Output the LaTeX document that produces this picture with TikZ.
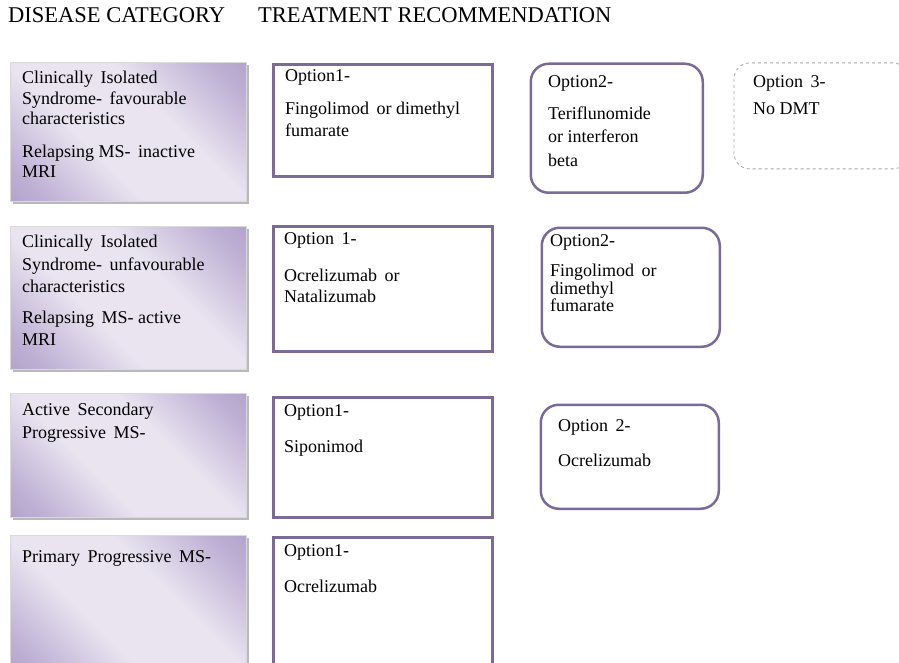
\documentclass[tikz,border=0pt]{standalone}
\usepackage{fontspec}
\setmainfont{Liberation Serif}
\usetikzlibrary{calc,positioning,shadows}
\definecolor{catdark}{HTML}{9C88BE}
\definecolor{catlight}{HTML}{E9E4F0}
\definecolor{optline}{HTML}{7A6A98}
\pgfdeclareverticalshading{catshade}{100bp}{color(0bp)=(catdark); color(22bp)=(catdark!55!catlight);
  color(40bp)=(catlight); color(60bp)=(catlight); color(78bp)=(catdark!55!catlight); color(100bp)=(catdark)}

\begin{document}
\begin{tikzpicture}[x=1pt,y=-1pt,
  cat/.style={anchor=north west,inner sep=0,draw=gray!30,line width=0.8pt,
    shading=catshade,shading angle=-45,
    drop shadow={shadow xshift=2.5pt,shadow yshift=-2.5pt,fill=gray!55,opacity=1}},
  opt/.style={anchor=north west,inner sep=0,draw=optline,line width=3pt},
  alt/.style={anchor=north west,inner sep=0,draw=optline,line width=2.5pt,rounded corners=18pt},
  nodmt/.style={anchor=north west,inner sep=0,draw=gray!70,dashed,line width=0.8pt,rounded corners=16pt},
  txt/.style={anchor=north west,yshift=12.3pt,inner sep=0,align=left,font=\fontsize{18}{21}\selectfont},
  head/.style={anchor=base west,inner sep=0,font=\fontsize{22.5}{26}\selectfont}]
\useasboundingbox (0,0) rectangle (899,663);
% headings
\node[head] (hcat) at (8,23) {DISEASE CATEGORY};
\node[head] (htreat) at (258,23) {TREATMENT RECOMMENDATION};
% disease category boxes
\node[cat,minimum width=236,minimum height=139] (catA) at (10,62) {};
\node[cat,minimum width=236,minimum height=143] (catB) at (10,226) {};
\node[cat,minimum width=236,minimum height=124] (catC) at (10,393) {};
\node[cat,minimum width=236,minimum height=140] (catD) at (10,535) {};
\node[txt] (catAtext) at (22,83) {Clinically\, Isolated\\ Syndrome-\, favourable\\[-1pt] characteristics\\[12pt] Relapsing MS-\, inactive\\[-1pt] MRI};
\node[txt] (catBtext) at (22,247) {Clinically\, Isolated\\[2pt] Syndrome-\, unfavourable\\[1pt] characteristics\\[10pt] Relapsing\, MS- active\\[1pt] MRI};
\node[txt] (catCtext) at (22,415) {Active\, Secondary\\[2pt] Progressive\, MS-};
\node[txt] (catDtext) at (22,563) {Primary\, Progressive\, MS-};
% option 1
\node[opt,minimum width=219,minimum height=112] (optA) at (271.5,63.5) {};
\node[opt,minimum width=219,minimum height=125] (optB) at (271.5,224.5) {};
\node[opt,minimum width=219,minimum height=120] (optC) at (271.5,395.5) {};
\node[opt,minimum width=219,minimum height=140] (optD) at (271.5,535.5) {};
\node[txt] (optAtext) at (285,82) {Option1-\\[12pt] Fingolimod\, or dimethyl\\[1pt] fumarate};
\node[txt] (optBtext) at (284,245) {Option\, 1-\\[16pt] Ocrelizumab\, or\\ Natalizumab};
\node[txt] (optCtext) at (284,417) {Option1-\\[15pt] Siponimod};
\node[txt] (optDtext) at (284,557) {Option1-\\[15pt] Ocrelizumab};
% option 2
\node[alt,minimum width=172,minimum height=129] (altA) at (529.5,62.5) {};
\node[alt,minimum width=178,minimum height=119] (altB) at (540.5,226.5) {};
\node[alt,minimum width=178,minimum height=104] (altC) at (539.5,403.5) {};
\node[txt] (altAtext) at (548,88) {Option2-\\[11pt] Teriflunomide\\[2pt] or interferon\\[3pt] beta};
\node[txt] (altBtext) at (550,247) {Option2-\\[9pt] Fingolimod\, or\\[-3.5pt] dimethyl\\[-3.5pt] fumarate};
\node[txt] (altCtext) at (558,432) {Option\, 2-\\[14pt] Ocrelizumab};
% option 3
\node[nodmt,minimum width=175,minimum height=106] (nodmtA) at (733.5,62.5) {};
\node[txt] (nodmtAtext) at (753,88) {Option\, 3-\\[6pt] No DMT};
\end{tikzpicture}
\end{document}
